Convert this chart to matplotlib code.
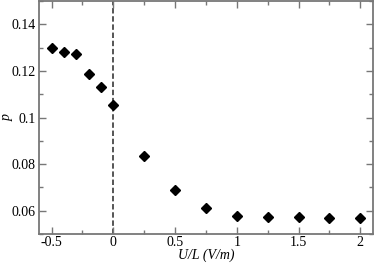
import numpy as np
import matplotlib
matplotlib.use("Agg")
import matplotlib.pyplot as plt
from matplotlib.ticker import MultipleLocator

# data
u_over_l = [-0.5, -0.4, -0.3, -0.2, -0.1, 0.0, 0.25, 0.5, 0.75, 1.0, 1.25, 1.5, 1.75, 2.0]
p_values = [0.1297, 0.1283, 0.1271, 0.1187, 0.1130, 0.1055, 0.0834, 0.0689, 0.0611,
            0.0579, 0.0571, 0.0571, 0.0570, 0.0569]
x_ticks = [-0.5, 0, 0.5, 1, 1.5, 2]
x_tick_labels = ["-0.5", "0", "0.5", "1", "1.5", "2"]
y_ticks = [0.06, 0.08, 0.1, 0.12, 0.14]
y_tick_labels = ["0.06", "0.08", "0.1", "0.12", "0.14"]

plt.rcParams['font.family'] = ['Liberation Serif', 'DejaVu Serif']
plt.rcParams['font.size'] = 10

fig = plt.figure(figsize=(3.74, 2.64), dpi=100)
ax = fig.add_axes([0.105, 0.1136, 0.8915, 0.8824])

frame_col = '#777777'

# dashed guide at U/L = 0
ax.axvline(0, color='#555555', linestyle=(0, (2.8, 1.4)), linewidth=1.4, zorder=1)
ax.plot(u_over_l, p_values, linestyle='none', marker='D', markersize=5.4,
        color='black', zorder=3)

ax.set_xlim(-0.6, 2.1)
ax.set_ylim(0.05, 0.15)
ax.set_xticks(x_ticks)
ax.set_xticklabels(x_tick_labels)
ax.set_yticks(y_ticks)
ax.set_yticklabels(y_tick_labels)
ax.xaxis.set_minor_locator(MultipleLocator(0.25))
ax.yaxis.set_minor_locator(MultipleLocator(0.01))

ax.tick_params(which='both', direction='in', top=True, right=True,
               color=frame_col, width=1.0)
ax.tick_params(which='major', length=5)
ax.tick_params(axis='y', which='major', pad=2.5)
ax.tick_params(axis='x', which='major', pad=1.5)
ax.tick_params(which='minor', length=3)

for s in ax.spines.values():
    s.set_color(frame_col)
    s.set_linewidth(1.3)

ax.set_xlabel('U/L (V/m)', fontstyle='italic', va='center')
ax.xaxis.set_label_coords(0.5, -0.09)
ax.set_ylabel('p', fontstyle='italic', va='center')
ax.yaxis.set_label_coords(-0.097, 0.5)

fig.savefig('out.png', dpi=100)
